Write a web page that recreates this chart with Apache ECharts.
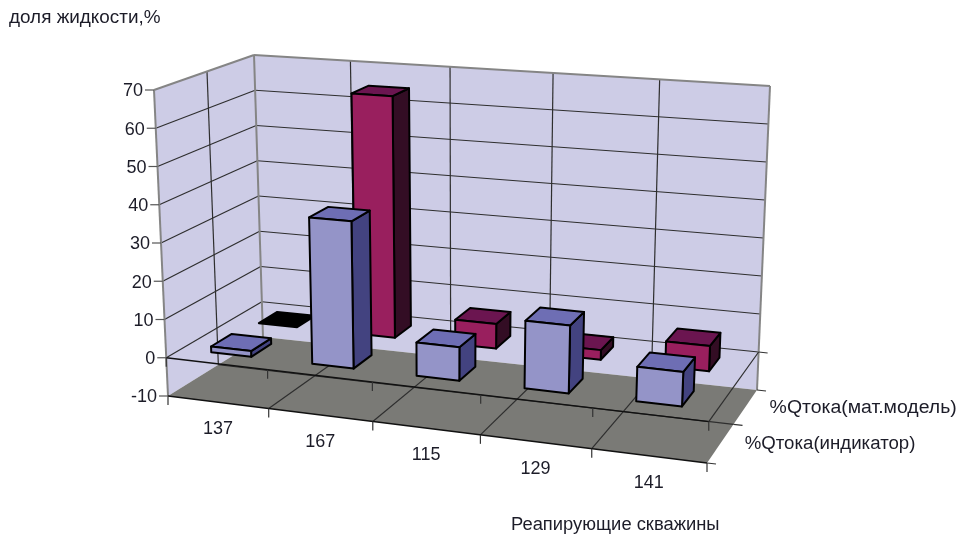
<!DOCTYPE html>
<html>
<head>
<meta charset="utf-8">
<style>html,body{margin:0;padding:0;background:#fff}#chart{width:958px;height:539px}</style>
<script src="https://cdn.jsdelivr.net/npm/echarts@6/dist/echarts.min.js"></script>
</head>
<body>
<div id="chart"></div>
<script>
// Well categories, series and value ticks
const wells = ['137', '167', '115', '129', '141'];
const seriesNames = ['%Qтока(индикатор)', '%Qтока(мат.модель)'];
const indicatorShare = [1.5, 38, 8.5, 17, 8.5];
const modelShare = [0, 65, 6.5, 2.5, 6.5];
const valueTicks = [-10, 0, 10, 20, 30, 40, 50, 60, 70];
const valueTitle = 'доля жидкости,%';
const wellsTitle = 'Реапирующие скважины';

const FONT = '"Liberation Sans", Arial, sans-serif';
const TEXT = '#1c1c28';
const LINE = '#2e2e2e';
const WALL_EDGE = '#858585';

// Box of the 3D plot on screen: [depth][height][horizontal]
const box = [
  [[[168, 396], [707, 463]], [[154, 90], [721, 132]]],
  [[[263, 337], [757, 390]], [[254, 55], [770, 86]]]
];
const mix = (p, q, t) => [p[0] + (q[0] - p[0]) * t, p[1] + (q[1] - p[1]) * t];

// u: along the wells, v: along the value axis, w: into the page; all in 0..1
function project(u, v, w) {
  const a = u / (u + 1.088 * (1 - u));
  const b = w / (w + 0.887 * (1 - w));
  const face = d => mix(mix(box[d][0][0], box[d][0][1], a), mix(box[d][1][0], box[d][1][1], a), v);
  return mix(face(0), face(1), b);
}

const poly = (points, fill, stroke, lineWidth) => ({
  type: 'polygon',
  shape: { points },
  style: { fill, stroke: stroke || null, lineWidth: lineWidth || 0, lineJoin: 'round' }
});
const seg = (p, q, stroke, lineWidth) => ({
  type: 'line',
  shape: { x1: p[0], y1: p[1], x2: q[0], y2: q[1] },
  style: { stroke, lineWidth: lineWidth || 1.2 }
});
const label = (text, x, y, align, stretch) => ({
  type: 'text',
  x, y,
  scaleX: stretch || 1,
  style: { text, fill: TEXT, font: '18px ' + FONT, align: align || 'center', verticalAlign: 'middle' }
});

// Normalised position inside the grid, read through the chart's own scales
function toUnit(params, api, cat, value) {
  const c = api.coord([cat, value]);
  const r = params.coordSys;
  return [(c[0] - r.x) / r.width, 1 - (c[1] - r.y) / r.height];
}

function renderFrame(params, api) {
  const kids = [];
  const vOf = t => toUnit(params, api, 0, t)[1];
  const edge = i => i / wells.length;

  // Walls and floor
  kids.push(poly([project(0,0,0), project(0,1,0), project(0,1,1), project(0,0,1)], '#cdcce6'));
  kids.push(poly([project(0,0,1), project(0,1,1), project(1,1,1), project(1,0,1)], '#cdcce6'));

  // Horizontal gridlines on both walls
  valueTicks.forEach(t => {
    const v = vOf(t);
    if (v > 0 && v < 1) {
      kids.push(seg(project(0, v, 0), project(0, v, 1), LINE));
      kids.push(seg(project(0, v, 1), project(1, v, 1), LINE));
    }
  });
  // Vertical gridlines on both walls
  kids.push(seg(project(0, 0, 0.5), project(0, 1, 0.5), LINE));
  for (let i = 1; i < wells.length; i++) {
    kids.push(seg(project(edge(i), 0, 1), project(edge(i), 1, 1), LINE));
  }
  kids.push(poly([project(0,0,0), project(1,0,0), project(1,0,1), project(0,0,1)], '#7a7a76'));

  // Floor grid
  for (let i = 1; i < wells.length; i++) {
    kids.push(seg(project(edge(i), 0, 0), project(edge(i), 0, 1), LINE));
  }
  kids.push(seg(project(0, 0, 0.5), project(1, 0, 0.5), LINE));

  // Wall outlines
  [[0,0,0, 0,1,0], [0,1,0, 0,1,1], [0,0,1, 0,1,1], [0,1,1, 1,1,1], [1,1,1, 1,0,1]].forEach(e => {
    kids.push(seg(project(e[0], e[1], e[2]), project(e[3], e[4], e[5]), WALL_EDGE, 2));
  });

  // Category axis along the zero level and along the floor, with ticks
  const zero = vOf(0);
  kids.push(seg(project(0, 0, 0), project(1, 0, 0), '#111', 1.5));
  kids.push(seg(project(0, zero, 0), project(1, zero, 0), '#111', 1.5));
  kids.push(seg(project(1, zero, 0), project(1, zero, 1), LINE));
  for (let i = 0; i <= wells.length; i++) {
    [0, zero].forEach(lv => {
      const p = project(edge(i), lv, 0);
      kids.push(seg(p, [p[0], p[1] + 9], '#333'));
    });
  }

  // Depth axis ticks
  [0, 0.5, 1].forEach(w => {
    const p = project(1, 0, w);
    kids.push(seg(p, [p[0] + 9, p[1] + 1], '#333'));
  });
  const zb = project(1, zero, 1);
  kids.push(seg(zb, [zb[0] + 9, zb[1] + 1], '#333'));

  // Value axis ticks and labels
  valueTicks.forEach(t => {
    const p = project(0, vOf(t), 0);
    kids.push(seg(p, [p[0] - 9, p[1]], '#555'));
    kids.push(label(String(t), p[0] - 11, p[1] + 1.5, 'right'));
  });

  // Well labels below the floor edge
  wells.forEach((name, i) => {
    const p = project((i + 0.5) / wells.length, 0, 0);
    kids.push(label(name, p[0], p[1] + 27));
  });

  // Series labels beside the floor edge
  seriesNames.forEach((name, s) => {
    const p = project(1, 0, (s + 0.5) / seriesNames.length);
    kids.push(label(name, p[0] + 24, p[1] + 1, 'left', s === 0 ? 1.036 : 1.08));
  });

  return { type: 'group', children: kids };
}

// A row of boxes standing on the zero level, s: row number from the front
function barRenderer(s, fills) {
  return function (params, api) {
    const cat = api.value(0), val = api.value(1);
    const base = toUnit(params, api, cat, 0);
    const top = toUnit(params, api, cat, val);
    const half = 0.4 * api.size([1, 0])[0] / params.coordSys.width / 2;
    const u0 = base[0] - half, u1 = base[0] + half;
    const rows = seriesNames.length;
    const w0 = (s + 0.5 - 0.21) / rows, w1 = (s + 0.5 + 0.21) / rows;
    const v0 = base[1], v1 = top[1];
    const P = project;
    const k = 'black', lw = 2;
    if (val === 0) {
      return poly([P(u0,v1,w0), P(u1,v1,w0), P(u1,v1,w1), P(u0,v1,w1)], '#000', k, lw);
    }
    return {
      type: 'group',
      children: [
        poly([P(u1,v0,w0), P(u1,v1,w0), P(u1,v1,w1), P(u1,v0,w1)], fills.side, k, lw),
        poly([P(u0,v1,w0), P(u1,v1,w0), P(u1,v1,w1), P(u0,v1,w1)], fills.top, k, lw),
        poly([P(u0,v0,w0), P(u1,v0,w0), P(u1,v1,w0), P(u0,v1,w0)], fills.front, k, lw)
      ]
    };
  };
}

const rowData = values => values.map((v, i) => [i, v]);

const chart = echarts.init(document.getElementById('chart'), null, { renderer: 'canvas' });
chart.setOption({
  animation: false,
  backgroundColor: '#ffffff',
  grid: { left: 100, top: 100, width: 600, height: 300 },
  xAxis: { type: 'category', data: wells, show: false },
  yAxis: { type: 'value', min: -10, max: 70, interval: 10, show: false },
  graphic: [
    { type: 'text', x: 9, y: 18, scaleX: 1.05, style: { text: valueTitle, fill: TEXT, font: '18px ' + FONT, verticalAlign: 'middle' } },
    { type: 'text', x: 511, y: 525, scaleX: 1.02, style: { text: wellsTitle, fill: TEXT, font: '18px ' + FONT, verticalAlign: 'middle' } }
  ],
  series: [
    { type: 'custom', name: 'frame', silent: true, data: [[0, 0]], encode: { x: 0, y: 1 }, renderItem: renderFrame, z: 1 },
    { type: 'custom', name: seriesNames[1], data: rowData(modelShare), encode: { x: 0, y: 1 }, z: 2,
      renderItem: barRenderer(1, { front: '#991f5e', side: '#330d24', top: '#6b1550' }) },
    { type: 'custom', name: seriesNames[0], data: rowData(indicatorShare), encode: { x: 0, y: 1 }, z: 3,
      renderItem: barRenderer(0, { front: '#9494c8', side: '#434380', top: '#6e6eb4' }) }
  ]
});
</script>
</body>
</html>
